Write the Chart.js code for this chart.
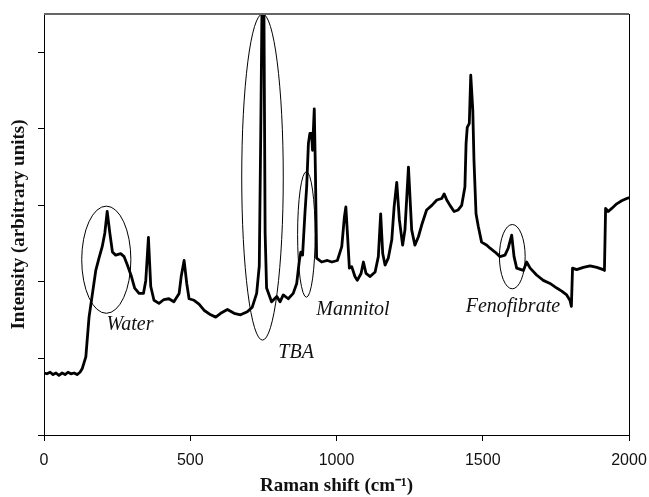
<!DOCTYPE html>
<html>
<head>
<meta charset="utf-8">
<script src="https://cdn.jsdelivr.net/npm/chart.js@4.4.1/dist/chart.umd.min.js"></script>
<style>
  html, body { margin: 0; padding: 0; background: #fff; }
</style>
</head>
<body>
<canvas id="c" width="649" height="497"></canvas>
<script>
// spectrum
const ramanShift = [
  0, 10, 21, 31, 41, 51, 62, 72, 82, 92,
  103, 113, 123, 131, 143, 154, 165, 177, 188, 199,
  208, 216, 225, 234, 245, 262, 274, 285, 299, 310,
  325, 340, 348, 357, 365, 376, 393, 410, 427, 444,
  462, 469, 479, 488, 496, 513, 530, 547, 570, 587,
  604, 627, 650, 672, 695, 712, 727, 736, 741, 745,
  749, 752, 756, 761, 778, 796, 807, 818, 835, 852,
  864, 873, 878, 884, 892, 898, 904, 909, 915, 918,
  924, 928, 932, 949, 969, 984, 1003, 1018, 1027, 1032,
  1038, 1044, 1052, 1063, 1071, 1084, 1092, 1101, 1115, 1132,
  1143, 1151, 1158, 1166, 1177, 1189, 1197, 1206, 1215, 1226,
  1234, 1246, 1257, 1268, 1280, 1291, 1308, 1326, 1343, 1360,
  1368, 1377, 1388, 1402, 1416, 1428, 1439, 1443, 1447, 1454,
  1459, 1466, 1470, 1477, 1485, 1496, 1514, 1525, 1542, 1559,
  1576, 1587, 1599, 1607, 1616, 1639, 1650, 1662, 1684, 1707,
  1730, 1753, 1770, 1787, 1798, 1803, 1807, 1821, 1844, 1867,
  1890, 1912, 1916, 1920, 1929, 1941, 1958, 1975, 1992, 2000
];
const intensity = [
  0.81, 0.80, 0.82, 0.79, 0.81, 0.78, 0.81, 0.79, 0.82, 0.80,
  0.81, 0.79, 0.82, 0.87, 1.02, 1.54, 1.83, 2.15, 2.31, 2.46,
  2.64, 2.92, 2.64, 2.39, 2.35, 2.37, 2.33, 2.22, 2.07, 1.92,
  1.85, 1.85, 2.02, 2.58, 1.94, 1.76, 1.72, 1.77, 1.78, 1.74,
  1.85, 2.07, 2.28, 1.98, 1.78, 1.76, 1.71, 1.63, 1.57, 1.54,
  1.59, 1.64, 1.59, 1.57, 1.61, 1.67, 1.85, 2.21, 3.94, 5.50,
  5.16, 5.50, 2.64, 1.92, 1.74, 1.81, 1.74, 1.83, 1.78, 1.85,
  1.98, 2.28, 2.39, 2.35, 2.89, 3.24, 3.81, 3.94, 3.94, 3.72,
  4.26, 3.42, 2.31, 2.26, 2.28, 2.26, 2.28, 2.46, 2.85, 2.98,
  2.59, 2.18, 2.20, 2.07, 2.02, 2.11, 2.26, 2.11, 2.07, 2.13,
  2.33, 2.89, 2.37, 2.22, 2.31, 2.55, 2.98, 3.30, 2.81, 2.48,
  2.68, 3.50, 2.68, 2.48, 2.59, 2.74, 2.94, 3.00, 3.07, 3.09,
  3.15, 3.07, 3.00, 2.92, 2.94, 3.00, 3.24, 3.81, 4.02, 4.07,
  4.70, 4.24, 3.59, 2.89, 2.72, 2.52, 2.48, 2.44, 2.39, 2.33,
  2.35, 2.44, 2.61, 2.33, 2.18, 2.15, 2.26, 2.18, 2.09, 2.02,
  1.98, 1.92, 1.88, 1.83, 1.76, 1.68, 2.18, 2.16, 2.19, 2.21,
  2.19, 2.16, 2.15, 2.96, 2.92, 2.96, 3.02, 3.06, 3.09, 3.10
];
const xTicks = [0, 500, 1000, 1500, 2000];
const yTicks = [0, 1, 2, 3, 4, 5];

// circled peaks, in data units
const peakNames = ['Water', 'TBA', 'Mannitol', 'Fenofibrate'];
const ringX = [213, 747, 897, 1601];
const ringY = [2.29, 3.37, 2.62, 2.33];
const ringRx = [84, 71, 30, 44];
const ringRy = [0.70, 2.13, 0.82, 0.42];
const nameX = [294, 862, 1056, 1603];
const nameY = [1.44, 1.08, 1.63, 1.67];

const peakMarks = {
  id: 'peakMarks',
  afterDatasetsDraw(chart) {
    const { ctx, chartArea: a } = chart;
    const x = chart.scales.x, y = chart.scales.y;
    ctx.save();
    ctx.strokeStyle = '#000';
    ctx.fillStyle = '#111';
    ctx.lineWidth = 1;
    ctx.font = 'italic 20px "Liberation Serif", serif';
    ctx.textAlign = 'center';
    ctx.textBaseline = 'middle';
    peakNames.forEach((name, i) => {
      const cx = x.getPixelForValue(ringX[i]);
      const cy = y.getPixelForValue(ringY[i]);
      const rx = Math.abs(x.getPixelForValue(ringX[i] + ringRx[i]) - cx);
      const ry = Math.abs(y.getPixelForValue(ringY[i] + ringRy[i]) - cy);
      ctx.beginPath();
      ctx.ellipse(cx, cy, rx, ry, 0, 0, Math.PI * 2);
      ctx.stroke();
      ctx.fillText(name, x.getPixelForValue(nameX[i]), y.getPixelForValue(nameY[i]));
    });
    // frame top + right
    ctx.strokeStyle = '#666';
    ctx.lineWidth = 2;
    ctx.beginPath();
    ctx.moveTo(a.left, a.top);
    ctx.lineTo(a.right, a.top);
    ctx.stroke();
    ctx.strokeStyle = '#000';
    ctx.lineWidth = 1;
    ctx.beginPath();
    ctx.moveTo(a.right + 0.5, a.top);
    ctx.lineTo(a.right + 0.5, a.bottom);
    ctx.stroke();
    ctx.restore();
  }
};

const points = ramanShift.map((v, i) => ({ x: v, y: intensity[i] }));

new Chart(document.getElementById('c').getContext('2d'), {
  type: 'line',
  data: {
    datasets: [{
      data: points,
      borderColor: '#000',
      borderWidth: 2.8,
      borderJoinStyle: 'round',
      borderCapStyle: 'round',
      pointRadius: 0,
      tension: 0,
      fill: false
    }]
  },
  options: {
    responsive: false,
    animation: false,
    layout: { padding: { top: 14, right: 20, left: 0, bottom: 0 } },
    plugins: { legend: { display: false }, tooltip: { enabled: false } },
    scales: {
      x: {
        type: 'linear',
        min: 0,
        max: 2000,
        afterBuildTicks: s => { s.ticks = xTicks.map(v => ({ value: v })); },
        afterFit: s => { s.height = 62; s.paddingLeft = 0; s.paddingRight = 0; },
        grid: { drawOnChartArea: false, drawTicks: true, tickLength: 6, color: '#000' },
        border: { color: '#000', width: 1 },
        ticks: {
          padding: 10,
          color: '#111',
          maxRotation: 0,
          autoSkip: false,
          callback: v => String(v),
          font: { family: '"Liberation Sans", Arial', size: 16 }
        },
        title: {
          display: true,
          text: 'Raman shift (cm\u207B\u00B9)',
          color: '#111',
          padding: { top: 0, bottom: 0 },
          font: { family: '"Liberation Serif", serif', size: 19, weight: 'bold' }
        }
      },
      y: {
        min: 0,
        max: 5.5,
        afterBuildTicks: s => { s.ticks = yTicks.map(v => ({ value: v })); },
        afterFit: s => { s.width = 44; },
        grid: { drawOnChartArea: false, drawTicks: true, tickLength: 6, color: '#000' },
        border: { color: '#000', width: 1 },
        ticks: { callback: () => '' },
        title: {
          display: true,
          text: 'Intensity (arbitrary units)',
          color: '#111',
          padding: { top: 8, bottom: 0 },
          font: { family: '"Liberation Serif", serif', size: 19, weight: 'bold' }
        }
      }
    }
  },
  plugins: [peakMarks]
});
</script>
</body>
</html>
